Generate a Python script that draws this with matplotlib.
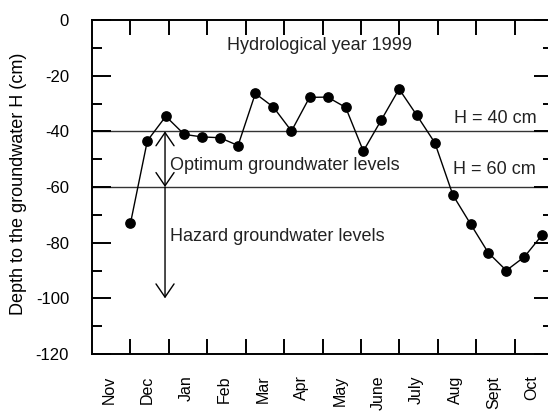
import matplotlib
matplotlib.use("Agg")
import matplotlib.pyplot as plt
import matplotlib.transforms as mtransforms
from matplotlib.ticker import FixedLocator, MultipleLocator, NullFormatter

# --- Datos (tiempo en meses desde el 1 de noviembre, profundidad en cm) ---
tiempo = [1.00, 1.44, 1.92, 2.40, 2.86, 3.33, 3.80, 4.25, 4.72, 5.19, 5.66, 6.13,
          6.60, 7.06, 7.52, 7.99, 8.45, 8.92, 9.39, 9.85, 10.31, 10.78, 11.25, 11.72]
profundidad = [-73.1, -43.4, -34.6, -41.1, -42.0, -42.3, -45.1, -26.4,
               -31.3, -39.9, -27.8, -27.7, -31.4, -47.1, -36.1, -24.8,
               -34.2, -44.1, -62.9, -73.3, -83.6, -90.0, -85.1, -77.1]

meses = ['Nov', 'Dec', 'Jan', 'Feb', 'Mar', 'Apr', 'May', 'June',
         'July', 'Aug', 'Sept', 'Oct']

h_optimo = -40
h_riesgo = -60
h_min = -100


def graficar():
    plt.rcParams['font.family'] = ['Liberation Sans', 'DejaVu Sans']
    plt.rcParams['axes.unicode_minus'] = False
    fig = plt.figure(figsize=(5.48, 4.12), dpi=100)
    ax = fig.add_axes([92 / 548, 58 / 412, 461.2 / 548, 334 / 412])

    limites = list(range(1, len(meses)))
    centros = [i + 0.5 for i in range(len(meses))]

    # niveles de referencia
    ax.axhline(h_optimo, color='#333333', lw=1.0, zorder=1)
    ax.axhline(h_riesgo, color='#333333', lw=1.0, zorder=1)

    ax.plot(tiempo, profundidad, color='black', lw=1.0, marker='o',
            markersize=6.7, zorder=3)

    x_flecha = 1.9
    estilo = 'head_length=0.95,head_width=0.65'
    ax.annotate('', xy=(x_flecha, h_optimo), xytext=(x_flecha, h_riesgo),
                arrowprops=dict(arrowstyle='<->,' + estilo, lw=1.0,
                                color='black', shrinkA=0, shrinkB=0,
                                mutation_scale=10), zorder=2)
    ax.annotate('', xy=(x_flecha, h_min), xytext=(x_flecha, h_riesgo),
                arrowprops=dict(arrowstyle='->,' + estilo, lw=1.0,
                                color='black', shrinkA=0, shrinkB=0,
                                mutation_scale=10), zorder=2)

    fs = 13
    ax.text(5.92, -9.0, 'Hydrological year 1999', ha='center', va='center',
            fontsize=fs, color='#222222')
    ax.text(9.41, -35.4, 'H = 40 cm', ha='left', va='center', fontsize=fs,
            color='#222222')
    ax.text(9.38, -53.7, 'H = 60 cm', ha='left', va='center', fontsize=fs,
            color='#222222')
    ax.text(2.03, -52.2, 'Optimum groundwater levels', ha='left',
            va='center', fontsize=fs, color='#222222')
    ax.text(2.03, -77.9, 'Hazard groundwater levels', ha='left',
            va='center', fontsize=fs, color='#222222')

    ax.set_xlim(0, 12)
    ax.set_ylim(-120, 0)

    ax.xaxis.set_major_locator(FixedLocator(limites))
    ax.xaxis.set_major_formatter(NullFormatter())
    ax.xaxis.set_minor_locator(FixedLocator(centros))
    ax.set_xticklabels(meses, minor=True, rotation=90, fontsize=11.5)
    ax.tick_params(axis='x', which='major', direction='in', length=11,
                   width=1.4, top=True, bottom=True)
    ax.tick_params(axis='x', which='minor', length=0, pad=15.5)
    desplazamiento = mtransforms.ScaledTranslation(-2 / 100, 0,
                                                   fig.dpi_scale_trans)
    for etiqueta in ax.get_xticklabels(minor=True):
        etiqueta.set_transform(etiqueta.get_transform() + desplazamiento)

    ax.yaxis.set_major_locator(MultipleLocator(20))
    ax.yaxis.set_minor_locator(MultipleLocator(10))
    ax.tick_params(axis='y', which='major', direction='in', length=14,
                   width=1.4, left=True, right=True, pad=16.5, labelsize=12)
    ax.tick_params(axis='y', which='minor', direction='in', length=7.2,
                   width=1.4, left=True, right=True)

    for lado in ax.spines.values():
        lado.set_linewidth(1.4)

    fig.text(18.4 / 548, 1 - 183.5 / 412, 'Depth to the groundwater H (cm)',
             rotation=90, ha='center', va='center', fontsize=13)

    fig.savefig('out.png', dpi=100)


if __name__ == "__main__":
    graficar()
